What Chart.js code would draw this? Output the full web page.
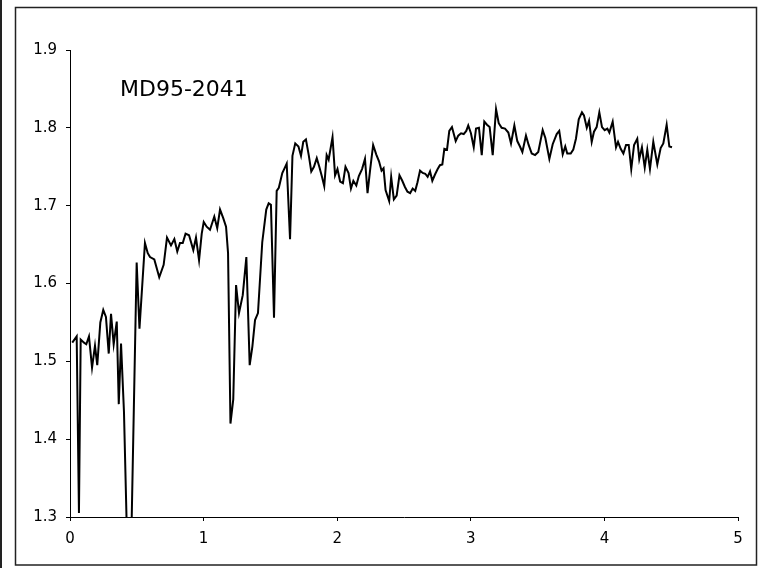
<!DOCTYPE html>
<html>
<head>
<meta charset="utf-8">
<script src="https://cdn.jsdelivr.net/npm/chart.js@4/dist/chart.umd.min.js"></script>
<style>
  html, body { margin: 0; padding: 0; background: #fff; }
  #c { display: block; }
</style>
</head>
<body>
<canvas id="c" width="765" height="568"></canvas>
<script>
// Core label and record
const coreName = "MD95-2041";

// Depth / age axis values (x) and the measured ratio (y)
const xValues = [
  0.017, 0.050, 0.067, 0.080, 0.105, 0.122, 0.142, 0.165, 0.187, 0.204,
  0.227, 0.249, 0.269, 0.290, 0.307, 0.327, 0.350, 0.365, 0.382, 0.404,
  0.434, 0.453, 0.499, 0.520, 0.561, 0.582, 0.599, 0.631, 0.668, 0.701,
  0.726, 0.756, 0.781, 0.803, 0.823, 0.844, 0.865, 0.891, 0.923, 0.943,
  0.966, 0.986, 1.001, 1.023, 1.048, 1.080, 1.102, 1.123, 1.147, 1.168,
  1.183, 1.201, 1.222, 1.243, 1.265, 1.293, 1.320, 1.345, 1.365, 1.385,
  1.407, 1.439, 1.469, 1.487, 1.504, 1.527, 1.547, 1.563, 1.589, 1.603,
  1.622, 1.647, 1.665, 1.686, 1.710, 1.729, 1.746, 1.766, 1.787, 1.806,
  1.826, 1.847, 1.866, 1.886, 1.903, 1.921, 1.936, 1.965, 1.984, 2.002,
  2.022, 2.043, 2.062, 2.085, 2.103, 2.121, 2.143, 2.162, 2.186, 2.208,
  2.227, 2.247, 2.269, 2.292, 2.313, 2.332, 2.347, 2.362, 2.389, 2.404,
  2.424, 2.445, 2.466, 2.487, 2.507, 2.526, 2.546, 2.565, 2.584, 2.601,
  2.620, 2.640, 2.659, 2.677, 2.695, 2.712, 2.732, 2.752, 2.769, 2.787,
  2.802, 2.822, 2.839, 2.859, 2.887, 2.906, 2.927, 2.947, 2.966, 2.981,
  3.001, 3.022, 3.039, 3.061, 3.082, 3.101, 3.121, 3.141, 3.164, 3.189,
  3.209, 3.231, 3.256, 3.281, 3.301, 3.326, 3.348, 3.368, 3.386, 3.413,
  3.433, 3.456, 3.481, 3.505, 3.538, 3.558, 3.588, 3.613, 3.643, 3.662,
  3.688, 3.707, 3.722, 3.748, 3.767, 3.787, 3.808, 3.832, 3.847, 3.868,
  3.885, 3.905, 3.922, 3.942, 3.962, 3.982, 4.002, 4.022, 4.037, 4.062,
  4.087, 4.102, 4.122, 4.142, 4.162, 4.182, 4.201, 4.222, 4.246, 4.261,
  4.281, 4.302, 4.321, 4.341, 4.366, 4.396, 4.421, 4.441, 4.466, 4.486,
  4.506
];

const yValues = [
  1.524, 1.532, 1.305, 1.528, 1.524, 1.522, 1.532, 1.492, 1.520, 1.495,
  1.550, 1.566, 1.557, 1.510, 1.561, 1.522, 1.551, 1.445, 1.523, 1.435,
  1.220, 1.220, 1.627, 1.542, 1.652, 1.639, 1.634, 1.631, 1.608, 1.624,
  1.659, 1.649, 1.657, 1.641, 1.652, 1.652, 1.664, 1.662, 1.643, 1.659,
  1.630, 1.664, 1.679, 1.673, 1.669, 1.686, 1.671, 1.695, 1.684, 1.673,
  1.639, 1.420, 1.451, 1.598, 1.562, 1.585, 1.634, 1.495, 1.519, 1.553,
  1.562, 1.653, 1.695, 1.703, 1.701, 1.556, 1.719, 1.723, 1.742, 1.747,
  1.754, 1.657, 1.764, 1.780, 1.776, 1.764, 1.782, 1.785, 1.765, 1.744,
  1.750, 1.761, 1.750, 1.737, 1.725, 1.765, 1.759, 1.788, 1.739, 1.747,
  1.731, 1.729, 1.750, 1.742, 1.722, 1.732, 1.726, 1.738, 1.747, 1.760,
  1.716, 1.747, 1.778, 1.766, 1.757, 1.745, 1.748, 1.720, 1.706, 1.737,
  1.708, 1.713, 1.739, 1.732, 1.724, 1.718, 1.716, 1.722, 1.719, 1.730,
  1.745, 1.742, 1.741, 1.737, 1.744, 1.732, 1.740, 1.747, 1.752, 1.753,
  1.773, 1.772, 1.796, 1.801, 1.783, 1.790, 1.793, 1.792, 1.796, 1.803,
  1.793, 1.775, 1.799, 1.800, 1.765, 1.808, 1.804, 1.801, 1.765, 1.824,
  1.806, 1.800, 1.799, 1.794, 1.780, 1.803, 1.783, 1.776, 1.769, 1.790,
  1.778, 1.767, 1.765, 1.769, 1.797, 1.787, 1.760, 1.779, 1.792, 1.796,
  1.766, 1.776, 1.767, 1.767, 1.772, 1.786, 1.811, 1.820, 1.816, 1.800,
  1.809, 1.782, 1.795, 1.801, 1.820, 1.801, 1.797, 1.799, 1.794, 1.808,
  1.775, 1.782, 1.773, 1.767, 1.778, 1.778, 1.747, 1.778, 1.786, 1.760,
  1.775, 1.749, 1.772, 1.747, 1.782, 1.753, 1.774, 1.780, 1.804, 1.776,
  1.775
];

// Axis tick settings
const xTicks = [0, 1, 2, 3, 4, 5];
const yTicks = [1.3, 1.4, 1.5, 1.6, 1.7, 1.8, 1.9];

const points = xValues.map((x, i) => ({ x: x, y: yValues[i] }));

const FONT = "'DejaVu Sans', Verdana, sans-serif";

// Outer frame, left rule and the core label
const framePlugin = {
  id: 'frame',
  beforeDraw(chart) {
    const ctx = chart.ctx;
    ctx.save();
    ctx.fillStyle = '#fff';
    ctx.fillRect(0, 0, chart.width, chart.height);
    ctx.strokeStyle = '#222';
    ctx.lineWidth = 2;
    ctx.beginPath();
    ctx.moveTo(1, 0);
    ctx.lineTo(1, chart.height);
    ctx.stroke();
    ctx.lineWidth = 1.5;
    ctx.strokeRect(15.5, 7.5, 741, 557.5);
    ctx.restore();
  },
  afterDatasetsDraw(chart) {
    const ctx = chart.ctx;
    ctx.save();
    ctx.fillStyle = '#000';
    ctx.font = "22px " + FONT;
    ctx.textBaseline = 'alphabetic';
    ctx.textAlign = 'left';
    ctx.fillText(coreName, 120, 96);
    ctx.restore();
  }
};

new Chart(document.getElementById('c'), {
  type: 'line',
  data: {
    datasets: [{
      data: points,
      borderColor: '#000',
      borderWidth: 2,
      pointRadius: 0,
      tension: 0,
      fill: false
    }]
  },
  options: {
    responsive: false,
    animation: false,
    devicePixelRatio: 1,
    layout: { padding: { left: 0, right: 27, top: 50, bottom: 21 } },
    plugins: {
      legend: { display: false },
      tooltip: { enabled: false }
    },
    scales: {
      x: {
        type: 'linear',
        min: xTicks[0],
        max: xTicks[xTicks.length - 1],
        afterFit(scale) { scale.height = 30; },
        afterBuildTicks(scale) { scale.ticks = xTicks.map(v => ({ value: v })); },
        grid: { display: true, drawOnChartArea: false, tickLength: 4, color: '#000', lineWidth: 1 },
        border: { display: true, color: '#000', width: 1 },
        ticks: {
          color: '#000',
          font: { family: FONT, size: 15 },
          padding: 9,
          maxRotation: 0,
          callback: v => String(v)
        }
      },
      y: {
        type: 'linear',
        min: yTicks[0],
        max: yTicks[yTicks.length - 1],
        afterFit(scale) { scale.width = 70; },
        afterBuildTicks(scale) { scale.ticks = yTicks.map(v => ({ value: v })); },
        grid: { display: true, drawOnChartArea: false, tickLength: 4, color: '#000', lineWidth: 1 },
        border: { display: true, color: '#000', width: 1 },
        ticks: {
          color: '#000',
          font: { family: FONT, size: 15 },
          padding: 9,
          callback: v => Number(v).toFixed(1)
        }
      }
    }
  },
  plugins: [framePlugin]
});
</script>
</body>
</html>
